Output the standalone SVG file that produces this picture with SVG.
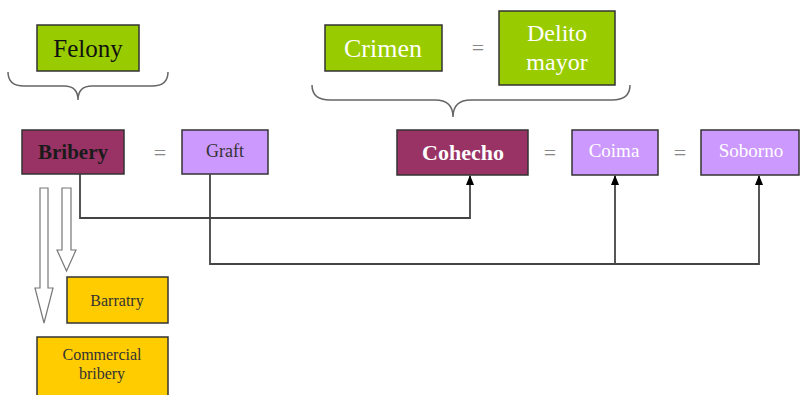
<svg xmlns="http://www.w3.org/2000/svg" width="800" height="395" viewBox="0 0 800 395">
<defs>
<marker id="ah" markerWidth="10" markerHeight="10" refX="9" refY="5" orient="auto" markerUnits="userSpaceOnUse" viewBox="0 0 10 10">
<path d="M0,1 L10,5 L0,9 Z" fill="#000"/>
</marker>
<style>
text{font-family:"Liberation Serif","Times New Roman",serif;text-anchor:middle}
.box{stroke:#333;stroke-width:1.5}
.g{fill:#99cc00}.m{fill:#993366}.l{fill:#cc99ff}.y{fill:#ffcc00}
.brace{fill:none;stroke:#666;stroke-width:1.5}
.eq{font-size:22px;fill:#888}
.conn{fill:none;stroke:#444;stroke-width:1.8}
.hollow{fill:#fff;stroke:#777;stroke-width:1.2}
</style>
</defs>
<path class="brace" d="M8,72 Q8,86 24,86 L64,86 Q78,86 78,100 Q78,86 92,86 L152,86 Q168,86 168,72"/>
<path class="brace" d="M312,85 Q312,100 330,100 L435,100 Q453,100 453,117 Q453,100 471,100 L612,100 Q630,100 630,85"/>
<g id="felony"><rect class="box g" x="37" y="25" width="102" height="46"/><text x="88" y="57" font-size="25" fill="#111">Felony</text></g>
<g id="crimen"><rect class="box g" x="325" y="25" width="117" height="46"/><text x="383" y="57" font-size="26" fill="#fff">Crimen</text></g>
<text class="eq" x="478" y="55">=</text>
<g id="delito"><rect class="box g" x="499" y="11" width="116" height="74"/><text x="557" y="41" font-size="24" fill="#fff">Delito</text><text x="557" y="70" font-size="24" fill="#fff">mayor</text></g>
<g id="bribery"><rect class="box m" x="22" y="130" width="102" height="44"/><text x="73" y="159" font-size="21" font-weight="bold" fill="#1a1a1a">Bribery</text></g>
<text class="eq" x="160" y="160">=</text>
<g id="graft"><rect class="box l" x="182" y="130" width="86" height="44"/><text x="225" y="157" font-size="18" fill="#333">Graft</text></g>
<g id="cohecho"><rect class="box m" x="397" y="130" width="131" height="45"/><text x="463" y="160" font-size="22" font-weight="bold" fill="#fff">Cohecho</text></g>
<text class="eq" x="550" y="160">=</text>
<g id="coima"><rect class="box l" x="572" y="130" width="86" height="45"/><text x="614" y="157" font-size="19" fill="#fff">Coima</text></g>
<text class="eq" x="680" y="160">=</text>
<g id="soborno"><rect class="box l" x="701" y="130" width="98" height="45"/><text x="751" y="157" font-size="19" fill="#fff">Soborno</text></g>
<g id="connectors">
<path class="conn" d="M80,174 V218 H470 V176" marker-end="url(#ah)"/>
<path class="conn" d="M210,174 V264 H759 V176" marker-end="url(#ah)"/>
<path class="conn" d="M615,264 V176" marker-end="url(#ah)"/>
<path class="hollow" d="M40,188 H48 V288 H53 L44,323 L35,288 H40 Z"/>
<path class="hollow" d="M62,188 H71 V250 H76 L66.5,271 L57,250 H62 Z"/>
</g>
<g id="barratry"><rect class="box y" x="67" y="277" width="101" height="46"/><text x="117" y="306" font-size="16" fill="#333">Barratry</text></g>
<g id="commercial"><rect class="box y" x="37" y="337" width="131" height="70"/><text x="102" y="360" font-size="16" fill="#333">Commercial</text><text x="102" y="379" font-size="16" fill="#333">bribery</text></g>
</svg>
